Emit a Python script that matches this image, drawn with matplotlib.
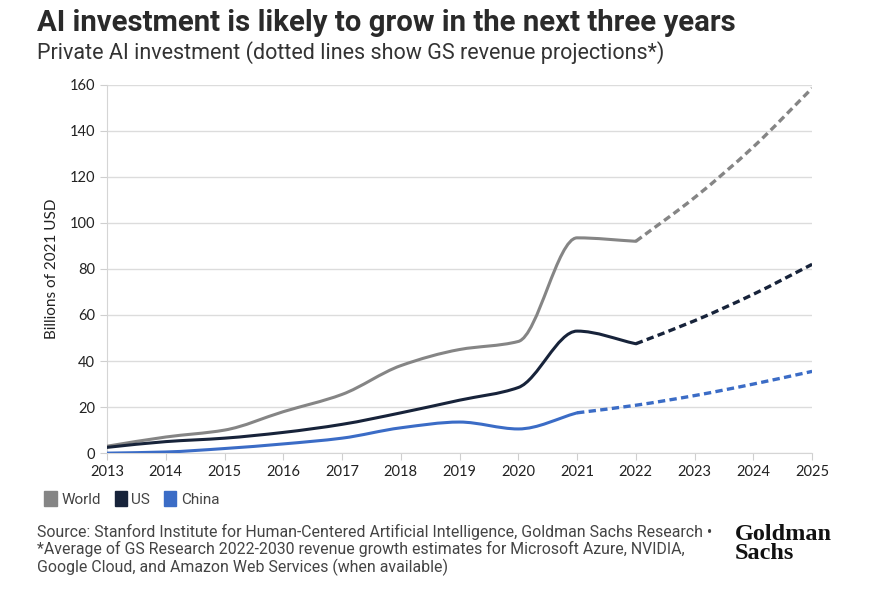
import numpy as np
import matplotlib.pyplot as plt
from matplotlib.path import Path
from matplotlib.patches import PathPatch, Patch

# Private AI investment, billions of 2021 USD
years = [2013, 2014, 2015, 2016, 2017, 2018, 2019, 2020, 2021, 2022]
world = [3, 7, 10, 18, 25.5, 38, 45, 48.5, 93.5, 92]
us = [2.5, 5, 6.5, 9, 12.5, 17.5, 23, 28.5, 53, 47.5]
china_years = [2013, 2014, 2015, 2016, 2017, 2018, 2019, 2020, 2021]
china = [0, 0.5, 2, 4, 6.5, 11, 13.5, 10.5, 17.5]

# GS revenue projections (dotted)
proj_years = [2022, 2023, 2024, 2025]
world_proj = [92, 111, 133, 158.5]
us_proj = [47.5, 57.5, 69, 82]
china_proj_years = [2021, 2022, 2023, 2024, 2025]
china_proj = [17.5, 20.8, 25, 30, 35.5]

c_world = "#858585"
c_us = "#17233a"
c_china = "#3b6cc6"

plt.rcParams['font.family'] = ['Lato', 'DejaVu Sans']


def smooth_path(x, y):
    # monotone cubic (Fritsch-Carlson) drawn as bezier segments
    x = np.asarray(x, float)
    y = np.asarray(y, float)
    h = np.diff(x)
    d = np.diff(y) / h
    m = np.zeros_like(y)
    m[0], m[-1] = d[0], d[-1]
    for i in range(1, len(y) - 1):
        if d[i - 1] * d[i] <= 0:
            m[i] = 0
        else:
            m[i] = 2 / (1 / d[i - 1] + 1 / d[i])
    verts = [(x[0], y[0])]
    codes = [Path.MOVETO]
    for i in range(len(x) - 1):
        verts += [(x[i] + h[i] / 3, y[i] + m[i] * h[i] / 3),
                  (x[i + 1] - h[i] / 3, y[i + 1] - m[i + 1] * h[i] / 3),
                  (x[i + 1], y[i + 1])]
        codes += [Path.CURVE4] * 3
    return Path(verts, codes)


fig = plt.figure(figsize=(8.77, 6.14), dpi=100)
ax = fig.add_axes([0.122, 0.262, 0.804, 0.6])

for xs, ys, col in [(years, world, c_world), (years, us, c_us), (china_years, china, c_china)]:
    ax.add_patch(PathPatch(smooth_path(xs, ys), fill=False, edgecolor=col, lw=2.2,
                           capstyle='round', zorder=3))
for xs, ys, col in [(proj_years, world_proj, c_world), (proj_years, us_proj, c_us),
                    (china_proj_years, china_proj, c_china)]:
    ax.add_patch(PathPatch(smooth_path(xs, ys), fill=False, edgecolor=col, lw=2.4,
                           linestyle=(0, (2.2, 1.3)), zorder=3))

ax.set_xlim(2013, 2025)
ax.set_ylim(0, 160)
ax.set_xticks(range(2013, 2026))
ax.set_yticks(range(0, 161, 20))
ax.grid(axis='y', color='#dcdcdc', lw=1)
ax.set_axisbelow(True)
for s in ['top', 'right']:
    ax.spines[s].set_visible(False)
for s in ['left', 'bottom']:
    ax.spines[s].set_color('#d5d5d5')
ax.tick_params(colors='#cfcfcf', labelcolor='#222222', labelsize=10.5, length=5)
ax.set_ylabel("Billions of 2021 USD", fontsize=11, color='#222222', labelpad=8)

fig.text(0.042, 0.962, "AI investment is likely to grow in the next three years",
         fontsize=21.2, fontweight='bold', color='#2a2a2a', family=['Roboto', 'DejaVu Sans'],
         va='center')
fig.text(0.042, 0.915, "Private AI investment (dotted lines show GS revenue projections*)",
         fontsize=15.5, color='#333333', family=['Roboto', 'DejaVu Sans'], va='center')

handles = [Patch(color=c_world, label='World'), Patch(color=c_us, label='US'),
           Patch(color=c_china, label='China')]
fig.legend(handles=handles, loc='center left', bbox_to_anchor=(0.035, 0.187), ncol=3,
           frameon=False, handlelength=0.8, handleheight=1.1, handletextpad=0.3,
           columnspacing=0.9, prop={'family': 'Roboto', 'size': 11}, labelcolor='#444444')

fig.text(0.042, 0.146,
         "Source: Stanford Institute for Human-Centered Artificial Intelligence, Goldman Sachs Research \u2022\n"
         "*Average of GS Research 2022-2030 revenue growth estimates for Microsoft Azure, NVIDIA,\n"
         "Google Cloud, and Amazon Web Services (when available)",
         fontsize=11.4, color='#444444', family=['Roboto', 'DejaVu Sans'], va='top', linespacing=1.07)
fig.text(0.838, 0.114, "Goldman\nSachs", fontsize=17.5, fontweight='bold', color='#111111',
         family=['Liberation Serif', 'DejaVu Serif'], va='center', ha='left', linespacing=0.85)

fig.savefig("out.png", dpi=100, facecolor='white')
